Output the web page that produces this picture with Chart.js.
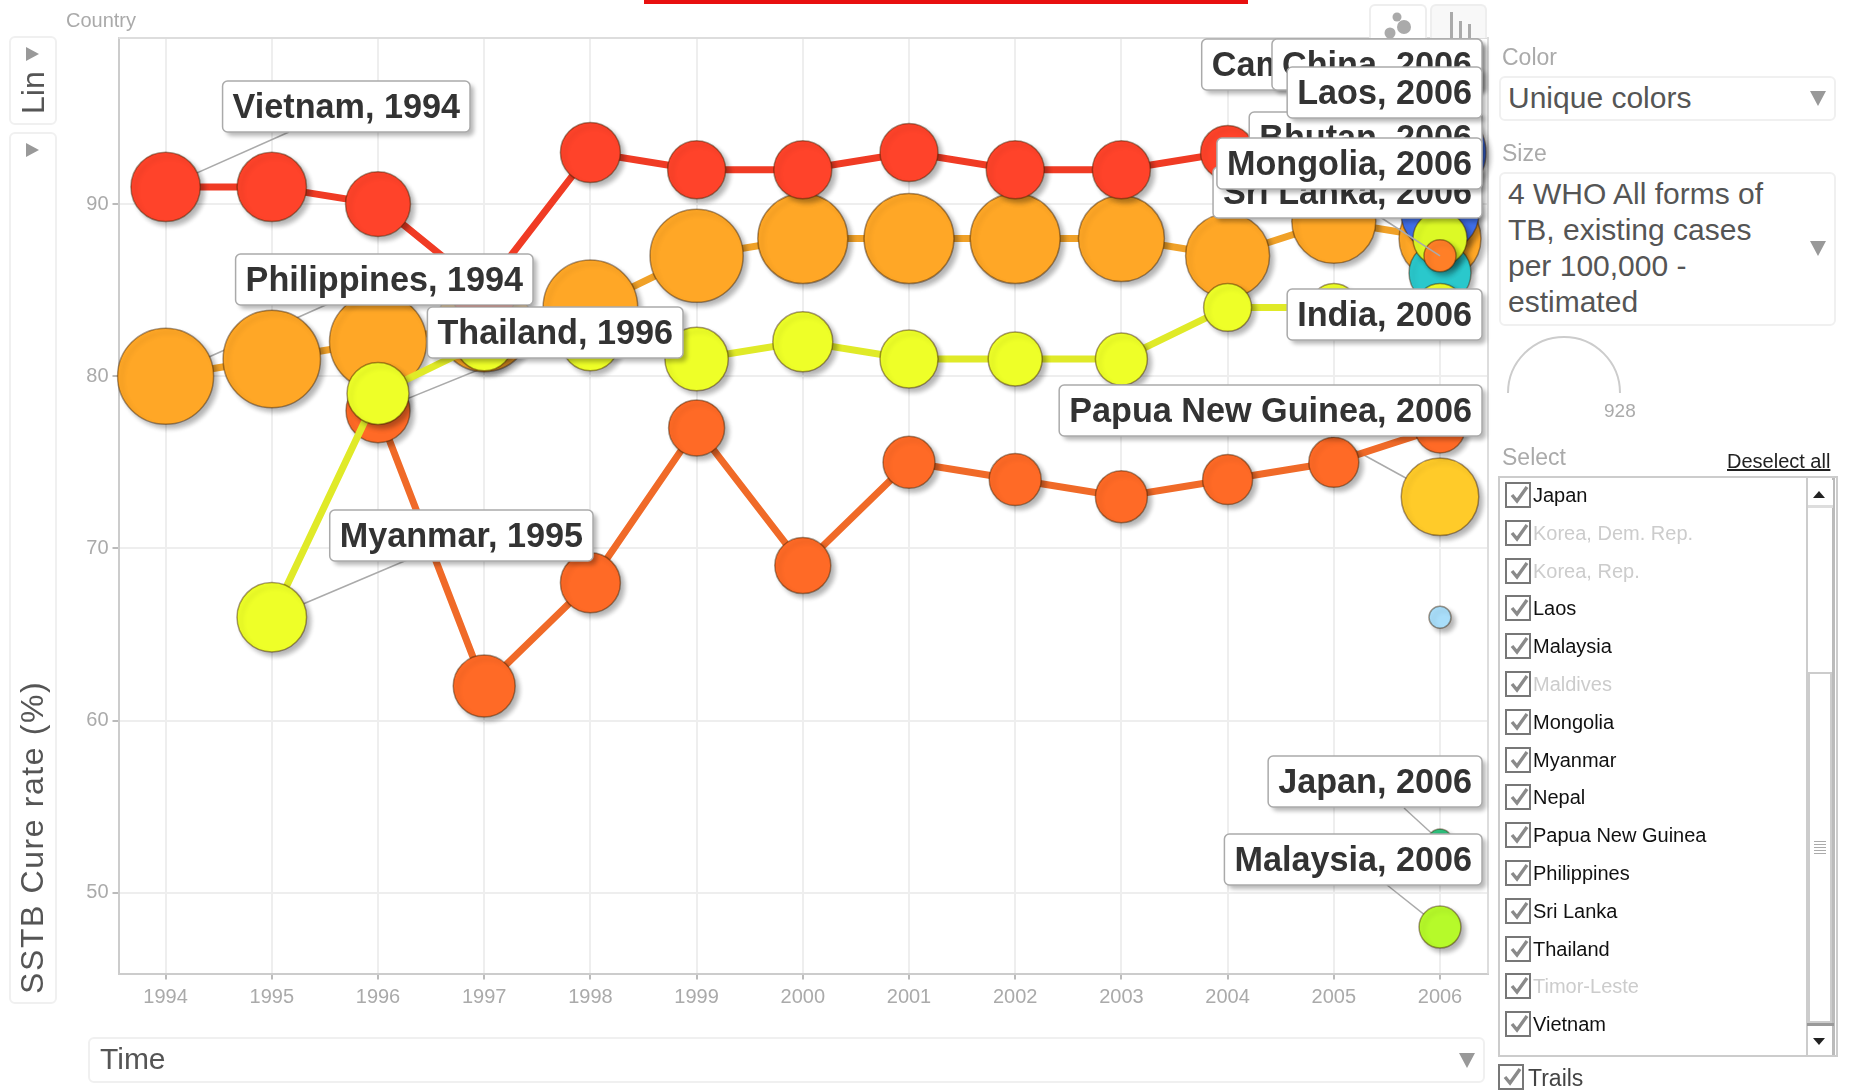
<!DOCTYPE html>
<html>
<head>
<meta charset="utf-8">
<script src="https://cdn.jsdelivr.net/npm/chart.js@4"></script>
<style>
html,body{margin:0;padding:0;background:#fff;overflow:hidden}
body{width:1849px;height:1090px;position:relative;font-family:"Liberation Sans",Arial,sans-serif}
canvas{position:absolute;left:0;top:0;filter:blur(.55px)}
#ui{position:absolute;left:0;top:0;width:1849px;height:1090px;filter:blur(.45px)}
.a{position:absolute;white-space:nowrap}
.box{position:absolute;border:2px solid #f0f0f0;border-radius:6px;box-sizing:border-box;background:#fff}
.lab{color:#aaa;font-size:23px}
.val{color:#555;font-size:30px}
.tri{position:absolute;width:0;height:0;border-left:8px solid transparent;border-right:8px solid transparent;border-top:15px solid #999}
.triR{position:absolute;width:0;height:0;border-top:7px solid transparent;border-bottom:7px solid transparent;border-left:13px solid #999}
.chk{position:absolute;width:26px;height:26px;border:2px solid #777;box-sizing:border-box;background:#fff}
.rot{position:absolute;transform-origin:left top;transform:rotate(-90deg);white-space:nowrap;color:#555}
</style>
</head>
<body>
<canvas id="c" width="1849" height="1090"></canvas>
<div id="ui"></div>
<script>
// ---- axes ----
const years = [1994,1995,1996,1997,1998,1999,2000,2001,2002,2003,2004,2005,2006];
const yTickValues = [50,60,70,80,90];

// ---- SSTB cure rate (%) per year ----
const vietnamCure     = [91,91,90,85,93,92,92,93,92,92,93,93,93];
const philippinesCure = [80,81,82,83,84,87,88,88,88,88,87,89,88];
const thailandCure    = [null,null,78,62,68,77,69,75,74,73,74,75,77];
const myanmarCure     = [null,66,79,82,82,81,82,81,81,81,84,84,84];

// ---- estimated TB cases per 100,000 (bubble size) ----
const vietnamSize     = [356,356,312,322,266,249,249,249,249,249,216,216,200];
const philippinesSize = [682,702,696,654,662,642,599,599,599,547,522,522,497];
const thailandSize    = [null,null,303,284,266,232,232,200,200,200,185,185,185];
const myanmarSize     = [null,358,284,249,249,297,266,249,216,200,170,170,170];

// ---- 2006-only countries ----
const singleNames = ["Other","Japan","Malaysia","Papua New Guinea","Cambodia","China","Laos","India","Sri Lanka","Mongolia"];
const singleCure  = [66,53,48,73,93,89.5,86,84,88,87];
const singleSize  = [36,43,130,445,626,450,284,150,216,76];
const singleColor = ["#a9defa","#2dc07c","#b6fa2a","#ffcb29","#3f6ee8","#3f6ee8","#2ac8cc","#f5e628","#dcf926","#ff7f27"];

// ---- callouts ----
const calloutText  = ["Cambodia, 2006","China, 2006","Bhutan, 2006","Laos, 2006","Sri Lanka, 2006","Mongolia, 2006","India, 2006","Papua New Guinea, 2006","Japan, 2006","Malaysia, 2006","Vietnam, 1994","Philippines, 1994","Myanmar, 1995","Thailand, 1996"];
const calloutRight = [1482,1482,1482,1482,1482,1482,1482,1482,1482,1482,470,533,593,683];
const calloutTop   = [39,39,112,67,167,138,289,385,756,834,81,254,510,307];
// leader lines: [country, year, value, anchor x, anchor y, on top?]
const leaderFrom = [["Vietnam",1994,91,289,132,0],["Philippines",1994,80,328,304,0],["Thailand",1996,78,510,357,0],["Myanmar",1995,66,407,560,0],["Papua New Guinea",2006,73,1331,437,0],["Japan",2006,53,1404,808,0],["Malaysia",2006,48,1387,885,0],["Mongolia",2006,87,1380,217,1]];

// ---- side panel list ----
const countries = ["Japan","Korea, Dem. Rep.","Korea, Rep.","Laos","Malaysia","Maldives","Mongolia","Myanmar","Nepal","Papua New Guinea","Philippines","Sri Lanka","Thailand","Timor-Leste","Vietnam"];
const greyed = ["Korea, Dem. Rep.","Korea, Rep.","Maldives","Timor-Leste"];

// area-proportional bubble: legend shows 928 at radius 56
const rad = v => v == null ? 0 : 56 * Math.sqrt(v / 928);
const EDGE = "rgba(60,30,0,.45)";

function series(label, cure, size, fill, line){
  return {label, data: years.map((y,i)=>({x:y,y:cure[i]})), pointRadius:size.map(rad), pointHoverRadius:size.map(rad),
    pointBackgroundColor:fill, pointBorderColor:EDGE, pointBorderWidth:1.5, borderColor:line, borderWidth:7, tension:0, clip:false, spanGaps:false};
}
function single(i){
  return {label:singleNames[i], data:[{x:2006,y:singleCure[i]}], pointRadius:rad(singleSize[i]), pointBackgroundColor:singleColor[i],
    pointBorderColor:EDGE, pointBorderWidth:1.5, showLine:false, clip:false};
}
const idx = n => singleNames.indexOf(n);
const stack = [ // bottom to top
  single(idx("Other")), single(idx("Japan")), single(idx("Malaysia")), single(idx("Papua New Guinea")),
  series("Philippines",philippinesCure,philippinesSize,"#ffa726","#f0a128"),
  series("Vietnam",vietnamCure,vietnamSize,"#ff432a","#f03b24"),
  single(idx("Cambodia")), single(idx("China")),
  series("Thailand",thailandCure,thailandSize,"#ff6a26","#f06a28"),
  single(idx("Laos")), single(idx("India")),
  series("Myanmar",myanmarCure,myanmarSize,"#eeff28","#e0ea28"),
  single(idx("Sri Lanka")), single(idx("Mongolia"))
];
stack.forEach((d,i)=>{d.order = stack.length - i;});

// soft shadow under each bubble
const baseDraw = Chart.PointElement.prototype.draw;
Chart.PointElement.prototype.draw = function(ctx, area){
  ctx.save();
  ctx.shadowColor = "rgba(0,0,0,.3)"; ctx.shadowBlur = 5; ctx.shadowOffsetX = 4; ctx.shadowOffsetY = 4;
  baseDraw.call(this, ctx, area);
  ctx.restore();
};

const leader = (chart, top) => {
  const ctx = chart.ctx, xs = chart.scales.x, ys = chart.scales.y;
  ctx.save(); ctx.strokeStyle = "#aaa"; ctx.lineWidth = 1.5;
  leaderFrom.filter(l=>l[5]===top).forEach(l=>{
    ctx.beginPath(); ctx.moveTo(xs.getPixelForValue(l[1]), ys.getPixelForValue(l[2])); ctx.lineTo(l[3], l[4]); ctx.stroke();
  });
  ctx.restore();
};
const framePlugin = {
  id:"frame",
  beforeDatasetsDraw(chart){
    const a = chart.chartArea, ctx = chart.ctx;
    ctx.save(); ctx.strokeStyle="#ddd"; ctx.lineWidth=2;
    ctx.beginPath(); ctx.moveTo(a.left,a.top); ctx.lineTo(a.right,a.top); ctx.lineTo(a.right,a.bottom); ctx.stroke();
    ctx.restore();
    leader(chart,0);
  },
  afterDatasetsDraw(chart){
    leader(chart,1);
    const ctx = chart.ctx;
    ctx.save();
    ctx.font = 'bold 34.2px "Liberation Sans", Arial, sans-serif';
    ctx.textBaseline = "middle";
    calloutText.forEach((t,i)=>{
      const w = ctx.measureText(t).width + 20, h = 51, x = calloutRight[i]-w, y = calloutTop[i];
      ctx.save();
      ctx.shadowColor="rgba(0,0,0,.28)"; ctx.shadowBlur=4; ctx.shadowOffsetX=4; ctx.shadowOffsetY=4;
      ctx.fillStyle="#fff"; ctx.beginPath(); ctx.roundRect(x,y,w,h,5); ctx.fill();
      ctx.restore();
      ctx.strokeStyle="#aaa"; ctx.lineWidth=1.5; ctx.beginPath(); ctx.roundRect(x,y,w,h,5); ctx.stroke();
      ctx.fillStyle="#333"; ctx.textAlign="left"; ctx.fillText(t,x+10,y+h/2+2);
    });
    ctx.restore();
  }
};

const AX = {left:118.5, right:1488, top:38, bottom:973.5};
const xPerYear = (1440-165.6)/12, yPerUnit = 17.2;
new Chart(document.getElementById("c"),{
  type:"line",
  data:{datasets:stack},
  plugins:[framePlugin],
  options:{
    responsive:false, animation:false, events:[],
    layout:{autoPadding:false, padding:{left:AX.left-60, top:AX.top, right:1849-AX.right, bottom:1090-AX.bottom-50}},
    plugins:{legend:{display:false},tooltip:{enabled:false}},
    scales:{
      x:{type:"linear", min:1994-(165.6-AX.left)/xPerYear, max:2006+(AX.right-1440)/xPerYear,
        afterBuildTicks(s){s.ticks=years.map(v=>({value:v}));},
        afterFit(s){s.height=50;s.paddingLeft=0;s.paddingRight=0;},
        grid:{color:"#eee",lineWidth:2,tickColor:"#bbb",tickLength:6},
        border:{color:"#ccc",width:2},
        ticks:{color:"#aaa",font:{family:"Liberation Sans",size:20},maxRotation:0,autoSkip:false,padding:6,callback:v=>String(v)}},
      y:{type:"linear", min:50-(AX.bottom-892.7)/yPerUnit, max:90+(204-AX.top)/yPerUnit,
        afterBuildTicks(s){s.ticks=yTickValues.map(v=>({value:v}));},
        afterFit(s){s.width=60;s.paddingTop=0;s.paddingBottom=0;},
        grid:{color:"#eee",lineWidth:2,tickColor:"#bbb",tickLength:6},
        border:{color:"#ccc",width:2},
        ticks:{color:"#aaa",font:{family:"Liberation Sans",size:20},padding:4,callback:v=>String(v)}}
    }
  }
});

// ---- surrounding controls ----
const ui = document.getElementById("ui");
function el(cls,css,html){const d=document.createElement("div");d.className=cls;d.style.cssText=css;if(html!=null)d.innerHTML=html;ui.appendChild(d);return d;}
const CHECK = '<svg width="24" height="24" style="position:absolute;left:0;top:-1px"><path d="M5 12 L10 18 L20 4" fill="none" stroke="#8a8a8a" stroke-width="3.4"/></svg>';

el("a","left:644px;top:0;width:604px;height:4px;background:#e8100f");
el("a","left:66px;top:9px;color:#aaa;font-size:20px","Country");
el("box","left:9px;top:36px;width:48px;height:89px");
el("triR","left:26px;top:47px");
el("rot","left:15px;top:114px;font-size:32px","Lin");
el("box","left:9px;top:132px;width:48px;height:872px");
el("triR","left:26px;top:143px");
el("rot","left:14px;top:994px;font-size:32px;letter-spacing:1.6px","SSTB Cure rate (%)");

// chart-type tabs
el("a","left:1369px;top:4px;width:58px;height:34px;border:2px solid #eee;border-bottom:none;border-radius:6px 6px 0 0;box-sizing:border-box;background:#fff",
 '<svg width="54" height="32"><circle cx="26" cy="11" r="4.5" fill="#aaa"/><circle cx="33" cy="21" r="7" fill="#aaa"/><circle cx="19" cy="27" r="5.5" fill="#aaa"/></svg>');
el("a","left:1430px;top:4px;width:57px;height:34px;border:2px solid #eee;border-bottom:none;border-radius:6px 6px 0 0;box-sizing:border-box;background:#f8f8f8",
 '<svg width="53" height="32"><rect x="18" y="6" width="3" height="26" fill="#aaa"/><rect x="27" y="15" width="3" height="17" fill="#aaa"/><rect x="36" y="18" width="3" height="14" fill="#aaa"/></svg>');

// x axis selector
el("box","left:88px;top:1037px;width:1397px;height:46px");
el("a val","left:100px;top:1042px;font-size:30px","Time");
el("tri","left:1459px;top:1053px");

// right panel
el("a lab","left:1502px;top:44px","Color");
el("box","left:1499px;top:76px;width:337px;height:45px");
el("a val","left:1508px;top:81px","Unique colors");
el("tri","left:1810px;top:91px");
el("a lab","left:1502px;top:140px","Size");
el("box","left:1499px;top:172px;width:337px;height:154px");
el("a val","left:1508px;top:176px;line-height:36px","4 WHO All forms of<br>TB, existing cases<br>per 100,000 -<br>estimated");
el("tri","left:1810px;top:241px");
el("a","left:1505px;top:335px;width:120px;height:60px",'<svg width="120" height="60"><path d="M3 58 A56 56 0 0 1 115 58" fill="none" stroke="#ccc" stroke-width="2"/></svg>');
el("a","left:1604px;top:400px;color:#aaa;font-size:19px","928");
el("a lab","left:1502px;top:444px","Select");
el("a","left:1727px;top:450px;color:#222;font-size:20px;text-decoration:underline","Deselect all");

el("a","left:1498px;top:476px;width:340px;height:581px;border:2px solid #ccc;box-sizing:border-box");
countries.forEach((n,i)=>{
  const y = 495 + i*37.8;
  el("chk",`left:1505px;top:${y-13}px`,CHECK);
  el("a",`left:1533px;top:${y-11}px;font-size:20px;color:${greyed.includes(n)?"#ccc":"#111"}`,n);
});
// scrollbar
el("a","left:1806px;top:478px;width:2px;height:577px;background:#ccc");
el("a","left:1832px;top:478px;width:3px;height:577px;background:#bbb");
el("a","left:1808px;top:480px;width:25px;height:28px;background:#fff;border-bottom:3px solid #ddd;box-sizing:border-box");
el("tri","left:1813px;top:491px;border-left-width:6px;border-right-width:6px;border-top:none;border-bottom:7px solid #222");
el("a","left:1808px;top:672px;width:24px;height:351px;border:2px solid #ccc;box-sizing:border-box;background:#fff");
el("a","left:1814px;top:841px;width:12px;height:15px;background:repeating-linear-gradient(#aaa 0 1px,#fff 1px 3px)");
el("a","left:1807px;top:1023px;width:27px;height:3px;background:#999");
el("tri","left:1813px;top:1038px;border-left-width:6px;border-right-width:6px;border-top:7px solid #222");
el("chk","left:1498px;top:1064px",CHECK);
el("a","left:1528px;top:1065px;font-size:23px;color:#444","Trails");
</script>
</body>
</html>
